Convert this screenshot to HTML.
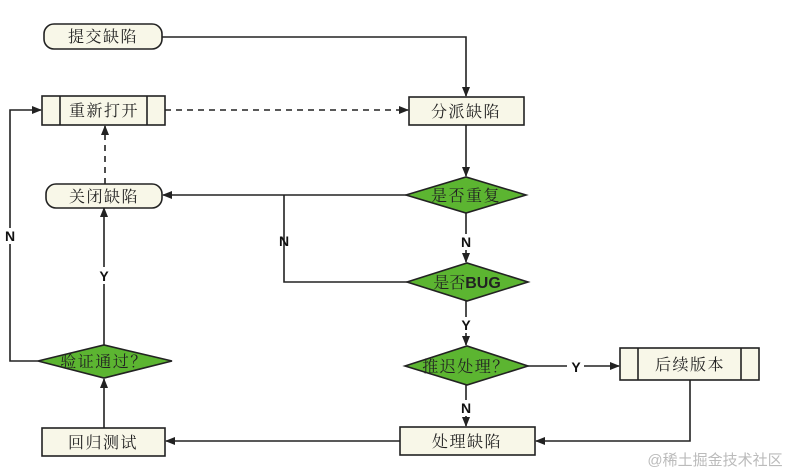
<!DOCTYPE html>
<html><head><meta charset="utf-8"><style>
html,body{margin:0;padding:0;background:#fff;}
svg{display:block;}
text{font-family:"Liberation Serif","Noto Serif CJK SC",serif;font-size:16px;fill:#222;}
.t{letter-spacing:1.5px;}
.lb{font-family:"Liberation Sans",sans-serif;font-weight:bold;font-size:14px;fill:#111;}
</style></head><body>
<svg width="795" height="474" viewBox="0 0 795 474" xmlns="http://www.w3.org/2000/svg">
<defs><marker id="a" markerWidth="10" markerHeight="8" refX="9" refY="4" orient="auto" markerUnits="userSpaceOnUse"><path d="M0,0 L10,4 L0,8 z" fill="#222"/></marker></defs>
<g stroke="#222" stroke-width="1.6" fill="none">
<polyline points="162,37 466,37 466,96" marker-end="url(#a)"/>
<line x1="165" y1="110" x2="408" y2="110" stroke-dasharray="6,5" marker-end="url(#a)"/>
<line x1="466" y1="125" x2="466" y2="176" marker-end="url(#a)"/>
<line x1="406" y1="195" x2="163" y2="195" marker-end="url(#a)"/>
<polyline points="284,195 284,282 407,282"/>
<line x1="466" y1="213" x2="466" y2="234"/>
<line x1="466" y1="250" x2="466" y2="262" marker-end="url(#a)"/>
<line x1="466" y1="301" x2="466" y2="317"/>
<line x1="466" y1="333" x2="466" y2="345" marker-end="url(#a)"/>
<line x1="528" y1="366" x2="567" y2="366"/>
<line x1="584" y1="366" x2="619" y2="366" marker-end="url(#a)"/>
<line x1="466" y1="385" x2="466" y2="400"/>
<line x1="466" y1="416" x2="466" y2="426" marker-end="url(#a)"/>
<polyline points="690,380 690,441 536,441" marker-end="url(#a)"/>
<line x1="400" y1="441" x2="166" y2="441" marker-end="url(#a)"/>
<line x1="104" y1="428" x2="104" y2="379" marker-end="url(#a)"/>
<line x1="104" y1="345" x2="104" y2="284"/>
<line x1="104" y1="267" x2="104" y2="208" marker-end="url(#a)"/>
<line x1="105" y1="184" x2="105" y2="126" stroke-dasharray="6,5" marker-end="url(#a)"/>
<polyline points="38,361 10,361 10,244"/>
<polyline points="10,228 10,110 41,110" marker-end="url(#a)"/>
</g>
<g stroke="#222" stroke-width="1.6" fill="#f8f7e8">
<rect x="44" y="24" width="118" height="25" rx="10"/>
<rect x="42" y="96" width="123" height="29"/>
<line x1="60" y1="96" x2="60" y2="125"/><line x1="147" y1="96" x2="147" y2="125"/>
<rect x="409" y="97" width="115" height="28"/>
<rect x="46" y="184" width="116" height="24" rx="10"/>
<rect x="620" y="348" width="139" height="32"/>
<line x1="638" y1="348" x2="638" y2="380"/><line x1="741" y1="348" x2="741" y2="380"/>
<rect x="400" y="427" width="135" height="28"/>
<rect x="42" y="428" width="123" height="28"/>
</g>
<g stroke="#222" stroke-width="1.6" fill="#5cb531">
<polygon points="406,195 466,177 526,195 466,213"/>
<polygon points="407,282 467,263 528,282 467,301"/>
<polygon points="405,366 467,346 528,366 467,385"/>
<polygon points="38,361 104,345 172,361 104,378"/>
</g>
<g text-anchor="middle">
<text class="t" x="103" y="42">提交缺陷</text>
<text class="t" x="104" y="116">重新打开</text>
<text class="t" x="466" y="117">分派缺陷</text>
<text class="t" x="104" y="202">关闭缺陷</text>
<text class="t" x="466" y="201">是否重复</text>
<text x="467" y="288">是否<tspan font-family="Liberation Sans" font-weight="bold">BUG</tspan></text>
<text class="t" x="466" y="372">推迟处理？</text>
<text class="t" x="104" y="367">验证通过？</text>
<text class="t" x="690" y="370">后续版本</text>
<text class="t" x="467" y="447">处理缺陷</text>
<text class="t" x="103" y="448">回归测试</text>
<text class="lb" x="10" y="241">N</text>
<text class="lb" x="284" y="246">N</text>
<text class="lb" x="466" y="247">N</text>
<text class="lb" x="466" y="330">Y</text>
<text class="lb" x="576" y="372">Y</text>
<text class="lb" x="466" y="413">N</text>
<text class="lb" x="104" y="281">Y</text>
</g>
<text x="715" y="465" text-anchor="middle" style="font-family:'Liberation Sans','Noto Sans CJK SC',sans-serif;font-size:15px;fill:#bbb;">@稀土掘金技术社区</text>
</svg>
</body></html>
